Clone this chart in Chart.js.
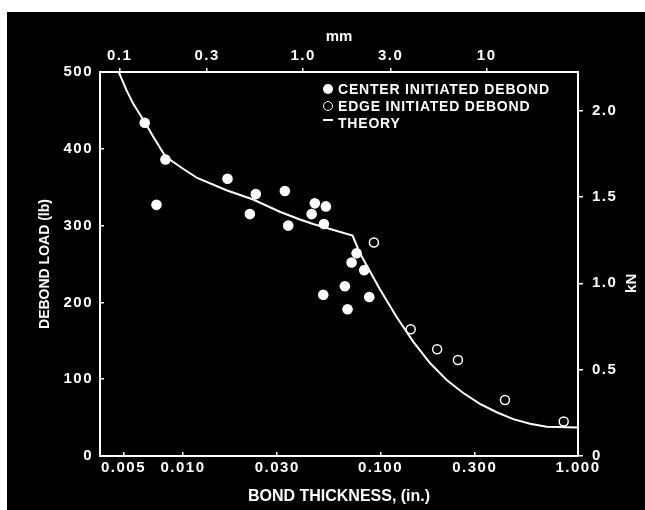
<!DOCTYPE html>
<html><head><meta charset="utf-8">
<script src="https://cdn.jsdelivr.net/npm/chart.js@4.4.1/dist/chart.umd.min.js"></script>
<style>
html,body{margin:0;padding:0;background:#000;overflow:hidden;}
#wrap{position:relative;width:645px;height:510px;overflow:hidden;background:#000;}
#topStrip{position:absolute;left:0;top:0;width:100%;height:12px;background:#fff;}
#leftStrip{position:absolute;left:0;top:0;width:7px;height:100%;background:#fff;}
#cv{position:absolute;left:0;top:0;width:645px;height:510px;}
#legend{position:absolute;left:323px;top:80px;color:#fff;font:bold 14px "Liberation Sans",Arial,sans-serif;letter-spacing:0.8px;}
.row{height:17px;display:flex;align-items:center;white-space:nowrap;}
.mk{flex:none;box-sizing:border-box;margin-right:5px;}
.filled{width:10px;height:10px;border-radius:50%;background:#fff;}
.open{width:10px;height:10px;border-radius:50%;border:1.5px solid #fff;}
.dash{width:10px;height:2px;background:#fff;position:relative;top:-3px;padding:0 1px;}
</style></head>
<body>
<div id="wrap">
  <div id="topStrip"></div>
  <div id="leftStrip"></div>
  <div id="cv"><canvas id="c" width="645" height="510"></canvas></div>
  <div id="legend">
    <div class="row"><span class="mk filled"></span><span id="l0"></span></div>
    <div class="row"><span class="mk open"></span><span id="l1"></span></div>
    <div class="row"><span class="mk dash"></span><span id="l2"></span></div>
  </div>
</div>
<script>
// ---- data ----
const seriesNames = ["CENTER INITIATED DEBOND", "EDGE INITIATED DEBOND", "THEORY"];
const centerX = [0.0064,0.00815,0.00734,0.0168,0.02337,0.0328,0.0218,0.0341,0.0465,0.0529,0.0448,0.0517,0.0757,0.0714,0.0827,0.066,0.0513,0.0877,0.0681];
const centerY = [434,386,327,361,341,345,315,300,329,325,315,302,264,252,242,221,210,207,191];
const edgeX = [0.0926,0.1422,0.1935,0.2466,0.4268,0.8465];
const edgeY = [278,165,139,125,73,45];
const theoryX = [0.00473,0.00518,0.00559,0.0064,0.00706,0.00815,0.01001,0.0118,0.0166,0.02265,0.0309,0.0391,0.0456,0.0722,0.0787,0.0993,0.1207,0.1464,0.178,0.2163,0.2624,0.3188,0.3875,0.47,0.5713,0.694,1.0];
const theoryY = [500,476,459,435,416,390,374,362,346,334,318,308,302,287,264,217,181,149,121,99,82,68,57,48,42,38,37];
const xTicksIn = [0.005,0.01,0.03,0.1,0.3,1.0];
const xTickLabelsIn = ["0.005","0.010","0.030","0.100","0.300","1.000"];
const xTicksMm = [0.1,0.3,1,3,10];
const xTickLabelsMm = ["0.1","0.3","1.0","3.0","10"];
const yTicksLb = [0,100,200,300,400,500];
const yTickLabelsLb = ["0","100","200","300","400","500"];
const yTicksKn = [0,0.5,1.0,1.5,2.0];
const yTickLabelsKn = ["0","0.5","1.0","1.5","2.0"];
const xTitle = "BOND THICKNESS, (in.)";
const yTitle = "DEBOND LOAD (lb)";
const x2Title = "mm";
const y2Title = "kN";

document.getElementById('l0').textContent = seriesNames[0];
document.getElementById('l1').textContent = seriesNames[1];
document.getElementById('l2').textContent = seriesNames[2];

const pts = (xs, ys) => xs.map((x, i) => ({x: x, y: ys[i]}));
const FAM = "'Liberation Sans', Arial, sans-serif";
Chart.defaults.font.family = FAM;
Chart.defaults.font.weight = 'bold';
Chart.defaults.font.size = 15;
Chart.defaults.color = '#fff';

function setTicks(vals) { return s => { s.ticks = vals.map(v => ({value: v})); }; }
function labelFrom(vals, labs) { return v => { const i = vals.findIndex(t => Math.abs(t - v) < 1e-9); return i >= 0 ? labs[i] : ''; }; }

const gridCommon = (len) => ({display: true, drawOnChartArea: false, drawTicks: true, tickLength: len, color: '#fff', lineWidth: 1.5});
const borderCommon = {display: true, color: '#fff', width: 2};

const spacing = {
  id: 'tickSpacing',
  beforeDraw(chart) {
    Object.values(chart.scales).forEach(s => {
      if (!s._spaced) {
        const orig = s.drawLabels;
        s.drawLabels = function (area) { const c = this.ctx; c.save(); c.letterSpacing = '1.5px'; orig.call(this, area); c.restore(); };
        s._spaced = true;
      }
    });
  }
};
const knTitle = {
  id: 'knTitle',
  afterDraw(chart) {
    const s = chart.scales.y2; const c = chart.ctx;
    c.save();
    c.translate(s.left + 54, s.getPixelForValue(1.0));
    c.rotate(-Math.PI / 2);
    c.font = "bold 15px " + FAM; c.fillStyle = '#fff'; c.textAlign = 'center'; c.textBaseline = 'middle';
    c.fillText(y2Title, 0, 0);
    c.restore();
  }
};

new Chart(document.getElementById('c'), {
  type: 'scatter',
  data: {
    datasets: [
      {label: seriesNames[0], data: pts(centerX, centerY), pointStyle: 'circle', pointRadius: 5.3, pointBackgroundColor: '#fff', pointBorderColor: '#fff', pointBorderWidth: 0, xAxisID: 'x', yAxisID: 'y'},
      {label: seriesNames[1], data: pts(edgeX, edgeY), pointStyle: 'circle', pointRadius: 4.5, pointBackgroundColor: 'rgba(0,0,0,0)', pointBorderColor: '#fff', pointBorderWidth: 1.5, xAxisID: 'x', yAxisID: 'y'},
      {label: seriesNames[2], data: pts(theoryX, theoryY), showLine: true, borderColor: '#fff', borderWidth: 2, pointRadius: 0, tension: 0, xAxisID: 'x', yAxisID: 'y'}
    ]
  },
  options: {
    responsive: false, animation: false, devicePixelRatio: 1,
    layout: {padding: 0},
    plugins: {legend: {display: false}, tooltip: {enabled: false}},
    scales: {
      x: {type: 'logarithmic', position: 'bottom', min: 0.0038, max: 1.0,
        afterFit: s => { s.height = 54; }, afterBuildTicks: setTicks(xTicksIn),
        ticks: {callback: labelFrom(xTicksIn, xTickLabelsIn), autoSkip: false, maxRotation: 0, minRotation: 0, padding: 7},
        grid: gridCommon(-4), border: borderCommon,
        title: {display: true, text: xTitle, font: {size: 16, weight: 'bold'}, padding: {top: 0, bottom: 4}}},
      x2: {type: 'logarithmic', position: 'top', min: 0.0782, max: 31.46,
        afterFit: s => { s.height = 72; }, afterBuildTicks: setTicks(xTicksMm),
        ticks: {callback: labelFrom(xTicksMm, xTickLabelsMm), autoSkip: false, maxRotation: 0, minRotation: 0, padding: 3},
        grid: gridCommon(4), border: borderCommon,
        title: {display: true, text: x2Title, font: {size: 15, weight: 'bold'}, padding: {top: 28, bottom: 0}}},
      y: {type: 'linear', position: 'left', min: 0, max: 500,
        afterFit: s => { s.width = 100; }, afterBuildTicks: setTicks(yTicksLb),
        ticks: {callback: labelFrom(yTicksLb, yTickLabelsLb), autoSkip: false, padding: 11},
        grid: gridCommon(-4), border: borderCommon,
        title: {display: true, text: yTitle, font: {size: 14, weight: 'bold'}, padding: {top: 37, bottom: 0}}},
      y2: {type: 'linear', position: 'right', min: 0, max: 2.2241,
        afterFit: s => { s.width = 67; }, afterBuildTicks: setTicks(yTicksKn),
        ticks: {callback: labelFrom(yTicksKn, yTickLabelsKn), autoSkip: false, padding: 9},
        grid: gridCommon(5), border: borderCommon}
    }
  },
  plugins: [spacing, knTitle]
});
</script>
</body></html>
